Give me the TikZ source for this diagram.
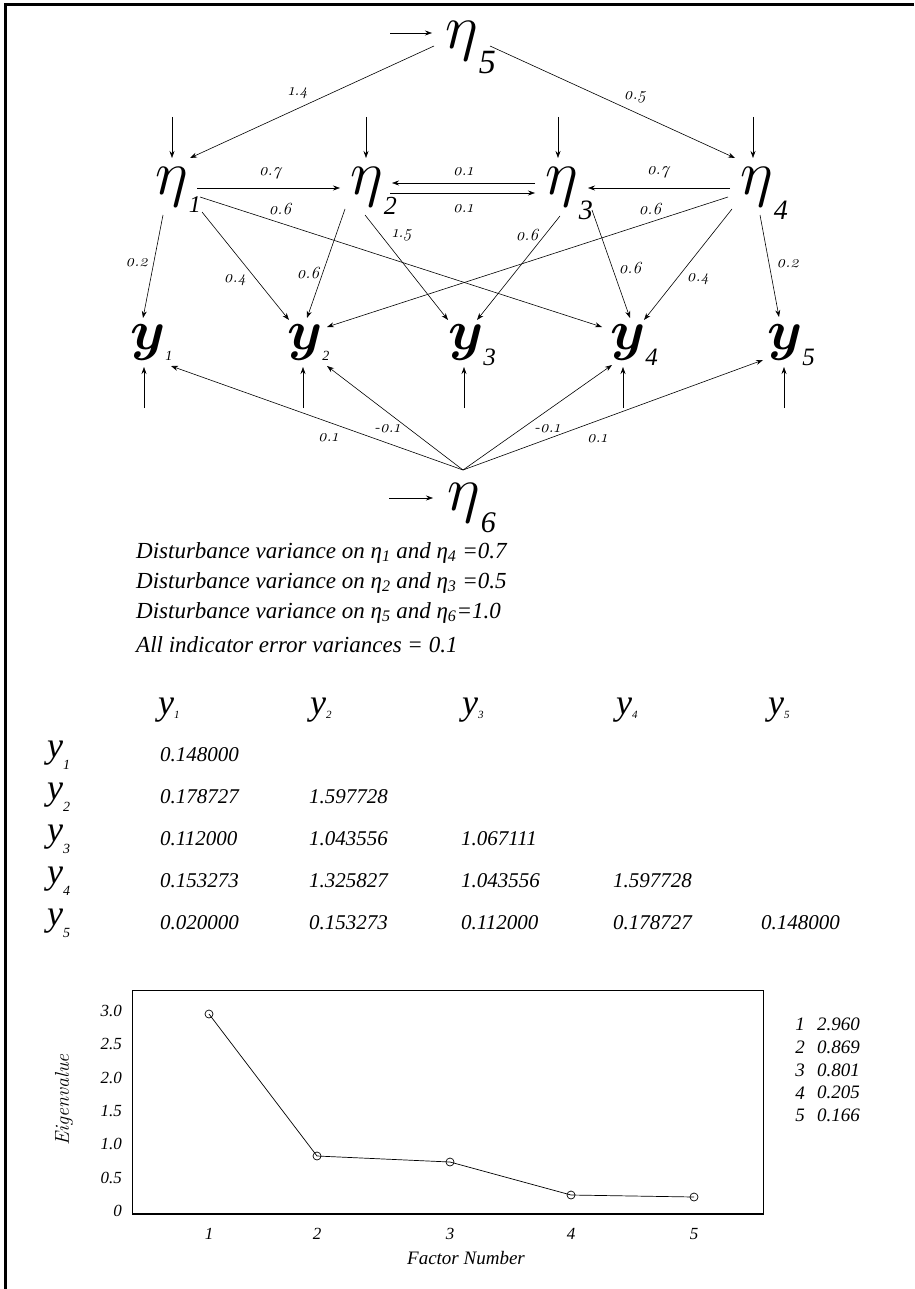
\RequirePackage{fix-cm}
\documentclass[tikz,border=0pt]{standalone}
\usepackage{fontspec}
\newfontfamily\tms{Liberation Serif}
\newfontfamily\lmos{Latin Modern Roman}[Numbers=OldStyle]
\usetikzlibrary{arrows.meta}
\newcommand\fs[1]{\fontsize{#1}{#1}\selectfont}
\newcommand\bigeta[3]{{\fs{63}$\eta$}\kern1pt\raisebox{#2pt}{\tms\itshape\fs{#3}#1}}
\newcommand\bigy[3]{{\fs{56}\boldmath$y$}\raisebox{#2pt}{\tms\itshape\fs{#3}#1}}
\newcommand\hy[1]{{\tms\itshape\fs{36}y}\raisebox{-4pt}{\tms\itshape\fs{11}#1}}
\newcommand\ry[1]{{\tms\itshape\fs{36}y}\raisebox{-12pt}{\tms\itshape\fs{14}#1}}
\begin{document}
\begin{tikzpicture}[x=1pt,y=-1pt,
  v/.style={inner sep=0pt, anchor=base west},
  ar/.style={-{Stealth[length=7pt,width=5pt]}, line width=0.6pt},
  el/.style={inner sep=0pt, font=\lmos\itshape\fs{17}},
  tx/.style={inner sep=0pt, anchor=west, font=\tms\itshape\fs{23}},
  mv/.style={inner sep=0pt, anchor=west, font=\tms\itshape\fs{21}},
  tk/.style={inner sep=0pt, font=\tms\itshape\fs{17}},
  ev/.style={inner sep=0pt, font=\tms\itshape\fs{19}}]
\useasboundingbox (0,0) rectangle (914,1289);
\draw[line width=3pt] (914,5) -- (5,5) -- (5,1289);

% variables
\node[v] (e5) at (445,49) {\bigeta{5}{-25}{34}};
\node[v] (e1) at (155,195) {\bigeta{1}{-18}{24}};
\node[v] (e2) at (350,195) {\bigeta{2}{-20}{26}};
\node[v] (e3) at (545,195) {\bigeta{3}{-25}{28}};
\node[v] (e4) at (740,195) {\bigeta{4}{-25}{28}};
\node[v] (e6) at (447,510) {\bigeta{6}{-22}{30}};
\node[v] (y1) at (130,349) {\bigy{1}{-11}{14}};
\node[v] (y2) at (287,349) {\bigy{2}{-11}{14}};
\node[v] (y3) at (448,349) {\bigy{3}{-16}{25}};
\node[v] (y4) at (610,349) {\bigy{4}{-16}{25}};
\node[v] (y5) at (767,349) {\bigy{5}{-16}{25}};

% free ends
\coordinate (in5) at (390,33);
\coordinate (in6) at (389,498);
\coordinate (d1) at (172,117);
\coordinate (d2) at (366,117);
\coordinate (d3) at (558,117);
\coordinate (d4) at (753,117);
\coordinate (b1) at (144,408);
\coordinate (b2) at (303,408);
\coordinate (b3) at (464,408);
\coordinate (b4) at (623,408);
\coordinate (b5) at (784,408);
\coordinate (fan) at (463,470);

\draw[ar] (in5) -- ([shift={(-13,-16)}]e5.base west);
\draw[ar] (in6) -- ([shift={(-14,-12)}]e6.base west);
\draw[ar] ([shift={(-11,-3)}]e5.base west) -- ([shift={(35,-37)}]e1.base west);
\draw[ar] ([shift={(45,-3)}]e5.base west) -- ([shift={(-5,-37)}]e4.base west);
\draw[ar] (d1) -- ([shift={(17,-37)}]e1.base west);
\draw[ar] (d2) -- ([shift={(16,-37)}]e2.base west);
\draw[ar] (d3) -- ([shift={(13,-37)}]e3.base west);
\draw[ar] (d4) -- ([shift={(13,-37)}]e4.base west);
\draw[ar] ([shift={(42,-7)}]e1.base west) -- ([shift={(-10,-7)}]e2.base west);
\draw[ar] ([shift={(-10,-12)}]e3.base west) -- ([shift={(42,-12)}]e2.base west);
\draw[ar] ([shift={(40,-2)}]e2.base west) -- ([shift={(-10,-2)}]e3.base west);
\draw[ar] ([shift={(-10,-7)}]e4.base west) -- ([shift={(43,-7)}]e3.base west);
\draw[ar] ([shift={(45,2)}]e1.base west) -- ([shift={(-8,-22)}]y4.base west);
\draw[ar] ([shift={(-12,2)}]e4.base west) -- ([shift={(40,-22)}]y2.base west);
\draw[ar] ([shift={(8,20)}]e1.base west) -- ([shift={(13,-31)}]y1.base west);
\draw[ar] ([shift={(47,17)}]e1.base west) -- ([shift={(2,-29)}]y2.base west);
\draw[ar] ([shift={(-5,14)}]e2.base west) -- ([shift={(20,-31)}]y2.base west);
\draw[ar] ([shift={(15,20)}]e2.base west) -- ([shift={(0,-29)}]y3.base west);
\draw[ar] ([shift={(15,21)}]e3.base west) -- ([shift={(29,-29)}]y3.base west);
\draw[ar] ([shift={(47,15)}]e3.base west) -- ([shift={(20,-31)}]y4.base west);
\draw[ar] ([shift={(-8,14)}]e4.base west) -- ([shift={(34,-29)}]y4.base west);
\draw[ar] ([shift={(20,20)}]e4.base west) -- ([shift={(12,-32)}]y5.base west);
\draw[ar] (b1) -- ([shift={(14,18)}]y1.base west);
\draw[ar] (b2) -- ([shift={(16,18)}]y2.base west);
\draw[ar] (b3) -- ([shift={(16,18)}]y3.base west);
\draw[ar] (b4) -- ([shift={(13,18)}]y4.base west);
\draw[ar] (b5) -- ([shift={(17,18)}]y5.base west);
\draw[ar] (fan) -- ([shift={(41,17)}]y1.base west);
\draw[ar] (fan) -- ([shift={(40,17)}]y2.base west);
\draw[ar] (fan) -- ([shift={(2,16)}]y4.base west);
\draw[ar] (fan) -- ([shift={(-4,11)}]y5.base west);

% edge labels
\node[el] (l1) at (298,93) {1.4};
\node[el] (l2) at (635,97) {0.5};
\node[el] (l3) at (270,173) {0.7};
\node[el] (l4) at (463,172) {0.1};
\node[el] (l5) at (463,209) {0.1};
\node[el] (l6) at (658,172) {0.7};
\node[el] (l7) at (280,209) {0.6};
\node[el] (l8) at (650,209) {0.6};
\node[el] (l9) at (137,263) {0.2};
\node[el] (l10) at (235,280) {0.4};
\node[el] (l11) at (308,273) {0.6};
\node[el] (l12) at (402,235) {1.5};
\node[el] (l13) at (527,235) {0.6};
\node[el] (l14) at (630,268) {0.6};
\node[el] (l15) at (698,279) {0.4};
\node[el] (l16) at (788,264) {0.2};
\node[el] (l17) at (328,438) {0.1};
\node[el] (l18) at (387,429) {-0.1};
\node[el] (l19) at (547,429) {-0.1};
\node[el] (l20) at (597,439) {0.1};

% notes
\node[tx] (t1) at (136,553) {Disturbance variance on η\textsubscript{1} and η\textsubscript{4} =0.7};
\node[tx] (t2) at (136,583) {Disturbance variance on η\textsubscript{2} and η\textsubscript{3} =0.5};
\node[tx] (t3) at (136,613) {Disturbance variance on η\textsubscript{5} and η\textsubscript{6}=1.0};
\node[tx] (t4) at (136,645) {All indicator error variances = 0.1};

% matrix header
\node[mv] (h1) at (158,710) {\hy{1}};
\node[mv] (h2) at (310,710) {\hy{2}};
\node[mv] (h3) at (462,710) {\hy{3}};
\node[mv] (h4) at (616,710) {\hy{4}};
\node[mv] (h5) at (768,710) {\hy{5}};
\node[mv] (r1) at (47,755) {\ry{1}};
\node[mv] (r2) at (47,797) {\ry{2}};
\node[mv] (r3) at (47,839) {\ry{3}};
\node[mv] (r4) at (47,881) {\ry{4}};
\node[mv] (r5) at (47,923) {\ry{5}};
\node[mv] (m11) at (160,755) {0.148000};
\node[mv] (m21) at (160,797) {0.178727};
\node[mv] (m22) at (309,797) {1.597728};
\node[mv] (m31) at (160,839) {0.112000};
\node[mv] (m32) at (309,839) {1.043556};
\node[mv] (m33) at (461,839) {1.067111};
\node[mv] (m41) at (160,881) {0.153273};
\node[mv] (m42) at (309,881) {1.325827};
\node[mv] (m43) at (461,881) {1.043556};
\node[mv] (m44) at (613,881) {1.597728};
\node[mv] (m51) at (160,923) {0.020000};
\node[mv] (m52) at (309,923) {0.153273};
\node[mv] (m53) at (461,923) {0.112000};
\node[mv] (m54) at (613,923) {0.178727};
\node[mv] (m55) at (761,923) {0.148000};

% scree plot
\draw[line width=0.8pt] (132,990) rectangle (763,1214);
\draw[line width=1.4pt] (132,1214) -- (763,1214);
\foreach \v/\t [count=\i] in {0/0,0.5/0.5,1/1.0,1.5/1.5,2/2.0,2.5/2.5,3/3.0}
  \node[tk, anchor=east] (yt\i) at (122,1211-66.7*\v) {\t};
\coordinate (p1) at (209,1014);
\coordinate (p2) at (317,1156);
\coordinate (p3) at (450,1162);
\coordinate (p4) at (571,1195);
\coordinate (p5) at (694,1197);
\draw[line width=0.7pt] (p1) -- (p2) -- (p3) -- (p4) -- (p5);
\foreach \p in {p1,p2,p3,p4,p5} \draw[line width=0.7pt] (\p) circle (4);
\foreach \x [count=\i] in {209,317,450,571,694}
  \node[tk] (xt\i) at (\x,1234) {\i};
\node[tk, font=\tms\itshape\fs{19}] (xl) at (466,1258) {Factor Number};
\node[inner sep=0pt, rotate=90, font=\itshape\fs{20}] (yl) at (64,1100) {Eigenvalue};
\foreach \v [count=\i] in {2.960,0.869,0.801,0.205,0.166} {
  \node[ev] (ei\i) at (800,1002+22.7*\i) {\i};
  \node[ev, anchor=west] (ev\i) at (817,1002+22.7*\i) {\v};
}
\end{tikzpicture}
\end{document}
